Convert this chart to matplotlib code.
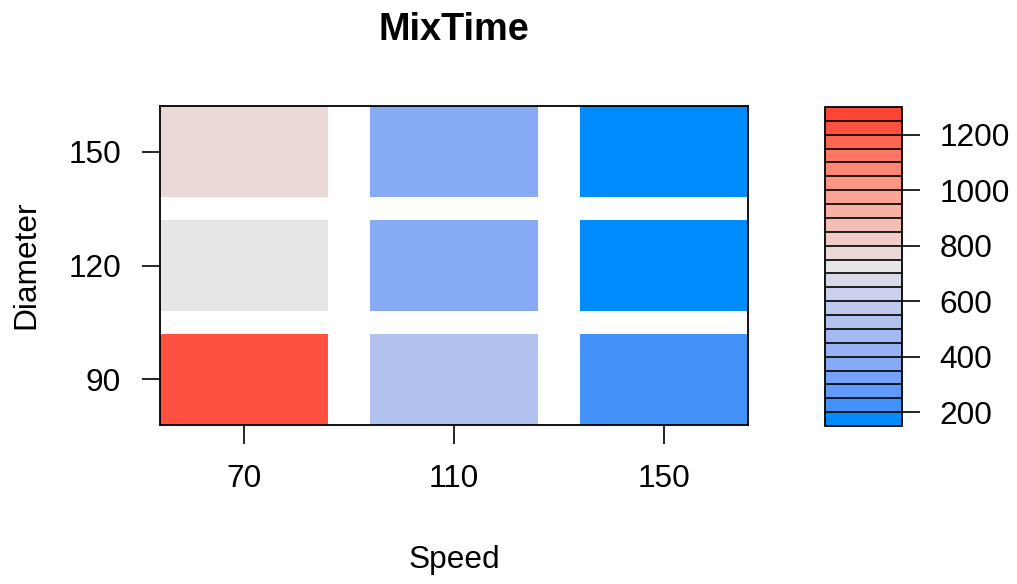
import numpy as np
import matplotlib
matplotlib.use("Agg")
import matplotlib.pyplot as plt
from matplotlib.colors import ListedColormap, BoundaryNorm
from matplotlib.cm import ScalarMappable

plt.rcParams['font.family'] = ['Liberation Sans', 'DejaVu Sans']

# data
speed = [70, 110, 150]
diameter = [90, 120, 150]
# rows = diameter, cols = speed
mix_time = np.array([
    [1220, 520, 220],   # diameter 90
    [720, 370, 170],    # diameter 120
    [770, 370, 170],    # diameter 150
])
levels = np.arange(150, 1301, 50)
cbar_ticks = [200, 400, 600, 800, 1000, 1200]

# 23 bin colours, low to high (lattice blue-grey-red regions)
bin_colors = ['#008BFF', '#4392FC', '#619AF9', '#75A1F7', '#87AAF5', '#96B2F3',
              '#A4B9F1', '#B2C2EF', '#BFC9EE', '#CBD1EC', '#D8DAE9', '#E6E6E6',
              '#EBD9D8', '#EFCCC6', '#F3BFB5', '#F6B2A5', '#F9A495', '#FB9685',
              '#FD8675', '#FF7664', '#FF6552', '#FF5040', '#FF4533']
cmap = ListedColormap(bin_colors)
norm = BoundaryNorm(levels, cmap.N)

fs = 22.8
fig = plt.figure(figsize=(10.17, 5.84), dpi=100)
ax = fig.add_axes([160/1017, 1-425/584, 588/1017, 319/584])

cw, ch = 32, 24  # cell width / height (0.8 of spacing)
for i, d in enumerate(diameter):
    ax.bar(speed, ch, bottom=d - ch/2, width=cw,
           color=cmap(norm(mix_time[i])), linewidth=0)

ax.set_xlim(54, 166)
ax.set_ylim(78, 162)
ax.set_xticks(speed)
ax.set_yticks(diameter)
ax.tick_params(axis='x', length=14, width=1.2, pad=14, labelsize=fs)
ax.tick_params(axis='y', length=13, width=1.2, pad=15, labelsize=fs)
for s in ax.spines.values():
    s.set_linewidth(1.3)

fig.text(454/1017, 1-30/584, 'MixTime', ha='center', va='center',
         fontsize=27.3, fontweight='bold')
fig.text(454/1017, 1-560/584, 'Speed', ha='center', va='center', fontsize=fs)
fig.text(26/1017, 1-265/584, 'Diameter', ha='center', va='center',
         rotation=90, fontsize=fs)

cax = fig.add_axes([825/1017, 1-426/584, 77/1017, 319/584])
cb = fig.colorbar(ScalarMappable(norm=norm, cmap=cmap), cax=cax,
                  drawedges=True, ticks=cbar_ticks)
cb.minorticks_off()
cb.dividers.set_color('black')
cb.dividers.set_linewidth(1.2)
cb.outline.set_linewidth(1.3)
cax.tick_params(length=13, width=1.2, pad=14, labelsize=fs)

fig.savefig('out.png', dpi=100)
